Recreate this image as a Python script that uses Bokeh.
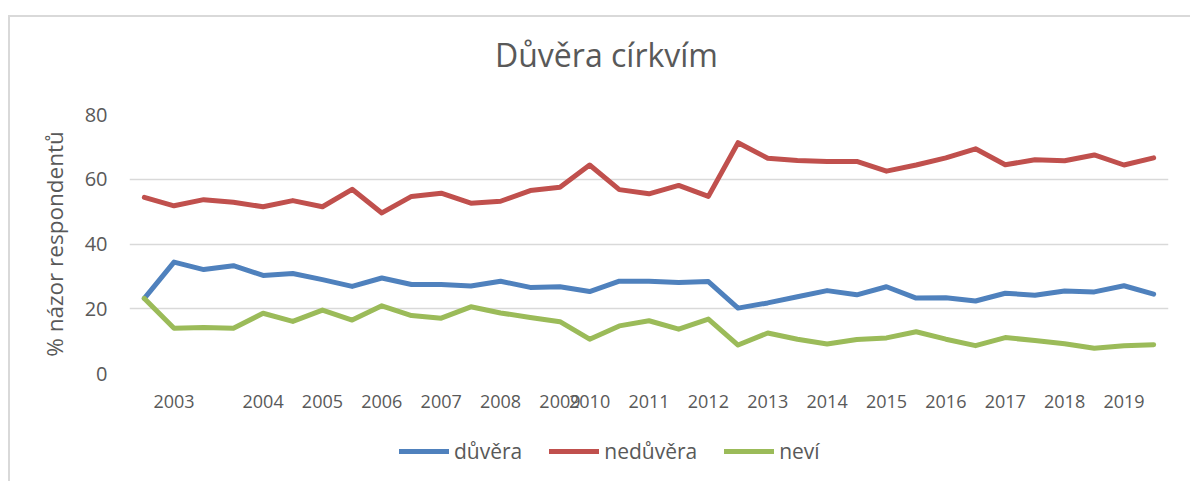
from bokeh.plotting import figure
from bokeh.models import Range1d, FixedTicker, Legend, LegendItem, Label
from bokeh.layouts import column
from bokeh.embed import file_html
from bokeh.resources import INLINE

# ---- data ----
categories = ["", "2003", "", "", "2004", "", "2005", "", "2006", "", "2007", "",
              "2008", "", "2009", "2010", "", "2011", "", "2012", "", "2013", "",
              "2014", "", "2015", "", "2016", "", "2017", "", "2018", "", "2019", ""]
duvera = [23.2, 34.4, 32.1, 33.3, 30.3, 30.9, 29.0, 26.9, 29.5, 27.5, 27.5, 27.0,
          28.5, 26.6, 26.8, 25.3, 28.5, 28.5, 28.1, 28.4, 20.2, 21.8, 23.7, 25.6,
          24.3, 26.8, 23.3, 23.4, 22.4, 24.8, 24.2, 25.5, 25.2, 27.1, 24.5]
neduvera = [54.4, 51.8, 53.7, 52.9, 51.5, 53.4, 51.5, 56.9, 49.6, 54.7, 55.7, 52.6,
            53.2, 56.5, 57.5, 64.4, 56.8, 55.5, 58.1, 54.7, 71.3, 66.5, 65.8, 65.5,
            65.5, 62.5, 64.4, 66.6, 69.4, 64.5, 66.0, 65.7, 67.5, 64.4, 66.6]
nevi = [23.2, 14.0, 14.2, 14.0, 18.6, 16.1, 19.6, 16.5, 20.9, 17.9, 17.1, 20.6,
        18.7, 17.3, 16.0, 10.6, 14.7, 16.3, 13.7, 16.8, 8.8, 12.5, 10.6, 9.1,
        10.5, 11.0, 12.9, 10.6, 8.6, 11.1, 10.2, 9.2, 7.8, 8.6, 8.9]
series_names = ["důvěra", "nedůvěra", "neví"]
series_colors = ["#4F81BD", "#C0504D", "#9BBB59"]
y_ticks = [0, 20, 40, 60, 80]
title_text = "Důvěra církvím"
y_title = "% názor respondentů"

FONT = "Open Sans"
TEXT = "#595959"
W = 1180
LB, RB = 119, 22          # left / right borders around the plotting frame
FW = W - LB - RB          # frame width

series = [duvera, neduvera, nevi]
x = list(range(len(categories)))

def strip(height):
    f = figure(width=W, height=height, output_backend="svg", toolbar_location=None,
               x_range=Range1d(0, FW), y_range=Range1d(0, height),
               x_axis_type=None, y_axis_type=None, title_location=None,
               min_border_left=LB, min_border_right=RB, min_border_top=0,
               min_border_bottom=0)
    f.outline_line_color = None
    f.background_fill_color = "white"
    f.border_fill_color = "white"
    return f

# ---- title strip ----
pt = strip(81)
pt.add_layout(Label(x=477, y=44, text=title_text, text_align="center",
                    text_baseline="alphabetic", text_font=FONT,
                    text_font_size="32px", text_color=TEXT))

# ---- main chart ----
p = figure(width=W, height=330, output_backend="svg", toolbar_location=None,
           x_range=Range1d(-0.5, len(categories) - 0.5), y_range=Range1d(0, 80),
           title_location=None,
           min_border_left=LB, min_border_right=RB, min_border_top=16,
           min_border_bottom=55)
p.outline_line_color = None
p.background_fill_color = "white"
p.border_fill_color = "white"

for vals, col in zip(series, series_colors):
    p.line(x, vals, line_color=col, line_width=5, line_join="round", line_cap="round")

p.xaxis.ticker = FixedTicker(ticks=[i for i, c in enumerate(categories) if c])
p.xaxis.major_label_overrides = {i: c for i, c in enumerate(categories) if c}
p.yaxis.ticker = FixedTicker(ticks=y_ticks)
for ax in (p.xaxis, p.yaxis):
    ax.axis_line_color = None
    ax.major_tick_line_color = None
    ax.minor_tick_line_color = None
    ax.major_tick_in = 0
    ax.major_tick_out = 0
    ax.major_label_text_font = FONT
    ax.major_label_text_color = TEXT
p.xaxis.major_label_text_font_size = "18px"
p.xaxis.major_label_standoff = 21
p.yaxis.major_label_text_font_size = "20px"
p.yaxis.major_label_standoff = 22
p.yaxis.axis_label = y_title
p.yaxis.axis_label_text_font = FONT
p.yaxis.axis_label_text_font_size = "22.5px"
p.yaxis.axis_label_text_font_style = "normal"
p.yaxis.axis_label_text_color = TEXT
p.yaxis.axis_label_standoff = 12

p.xgrid.grid_line_color = None
p.ygrid.grid_line_color = "#d9d9d9"
p.ygrid.grid_line_width = 1.5

# ---- legend strip (keys mirror the chart's series, hidden in the strip) ----
pl = strip(53)
keys = [pl.line(x, vals, line_color=col, line_width=5, line_cap="round", visible=False)
        for vals, col in zip(series, series_colors)]
legend = Legend(items=[LegendItem(label=n, renderers=[r]) for n, r in zip(series_names, keys)],
                orientation="horizontal", location=(270, 16),
                glyph_width=50, glyph_height=20, label_height=20, label_standoff=5,
                spacing=27, padding=0, margin=0, inactive_fill_alpha=0,
                label_text_font=FONT, label_text_font_size="21px", label_text_color=TEXT,
                border_line_color=None, background_fill_alpha=0)
pl.add_layout(legend)

page = column(pt, p, pl, spacing=0)
page.styles = {"border-left": "2px solid #d9d9d9", "border-top": "2px solid #d9d9d9",
               "margin-top": "15px", "margin-left": "8px"}

open("out.html", "w").write(file_html(page, INLINE))
